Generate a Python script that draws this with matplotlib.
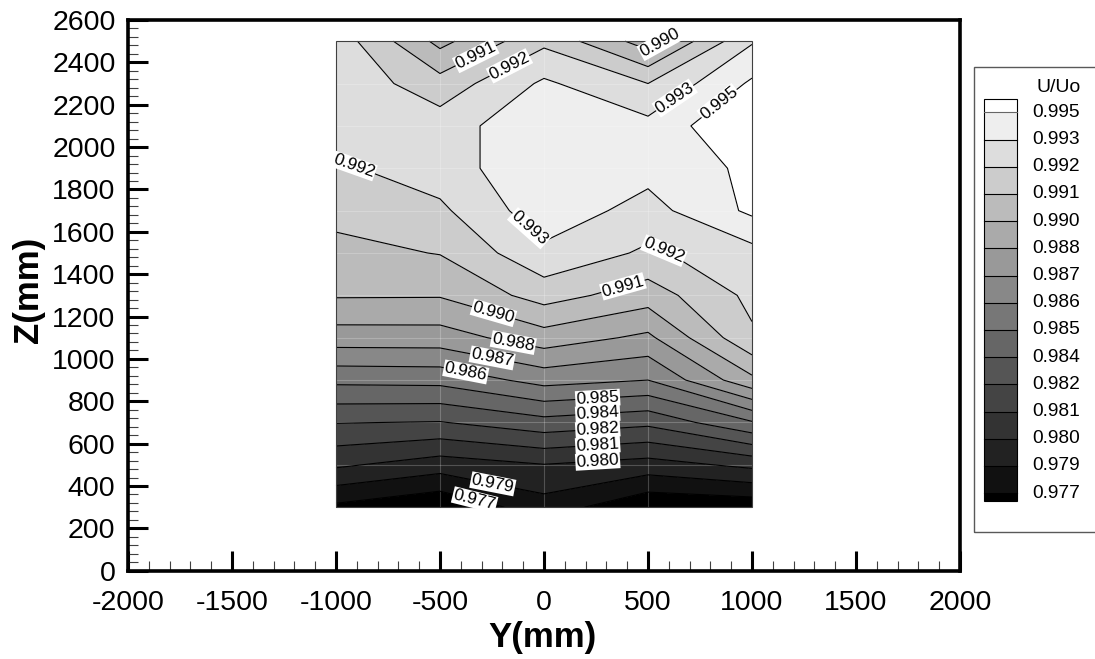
import numpy as np
import matplotlib
matplotlib.use("Agg")
import matplotlib.pyplot as plt
from matplotlib.colors import ListedColormap, BoundaryNorm
from matplotlib.ticker import MultipleLocator
from matplotlib.patches import Rectangle

plt.rcParams['font.family'] = ['Liberation Sans', 'DejaVu Sans']
plt.rcParams['axes.unicode_minus'] = False

# Measurement grid (mm)
y_pos = [-1000, -500, 0, 500, 1000]
z_pos = [300, 500, 700, 900, 1100, 1300, 1500, 1700, 1900, 2100, 2300, 2500]

# U/Uo at each grid node, one row per height z
u_ratio = [
    [0.97705, 0.97620, 0.97801, 0.97624, 0.97644],
    [0.98001, 0.97917, 0.97976, 0.97928, 0.98011],
    [0.98233, 0.98222, 0.98307, 0.98258, 0.98464],
    [0.98506, 0.98514, 0.98646, 0.98600, 0.98942],
    [0.98789, 0.98791, 0.98916, 0.98821, 0.99201],
    [0.98983, 0.98981, 0.99148, 0.99033, 0.99251],
    [0.99059, 0.99101, 0.99316, 0.99199, 0.99301],
    [0.99134, 0.99196, 0.99418, 0.99298, 0.99493],
    [0.99201, 0.99282, 0.99443, 0.99387, 0.99493],
    [0.99294, 0.99282, 0.99443, 0.99381, 0.99592],
    [0.99313, 0.99146, 0.99365, 0.99220, 0.99488],
    [0.99294, 0.98935, 0.99192, 0.98910, 0.99332],
]

# Contour levels
levels = [0.97732, 0.97856, 0.97980, 0.98104, 0.98228, 0.98352, 0.98476,
          0.98600, 0.98724, 0.98848, 0.98972, 0.99096, 0.99220, 0.99344,
          0.99468]

# Where each contour label sits: (level index, y, z)
label_spots = [
    (11, -325, 2425), (12, -166, 2383), (10, 579, 2454), (13, 622, 2241),
    (14, 844, 2203), (12, -914, 1911), (13, -70, 1618), (12, 579, 1518),
    (11, 382, 1334), (10, -243, 1217), (9, -147, 1080), (8, -252, 990),
    (7, -382, 909), (6, 258, 815), (5, 258, 744), (4, 258, 673),
    (3, 258, 598), (2, 258, 522), (1, -248, 400), (0, -334, 333),
]

W, H = 1095, 659
fig = plt.figure(figsize=(W / 100, H / 100), dpi=100)


def fx(px):
    return px / W


def fy(py):
    return 1 - py / H


ax = fig.add_axes([fx(128), fy(570.7), fx(960) - fx(128), fy(20) - fy(570.7)])
ax.set_xlim(-2000, 2000)
ax.set_ylim(0, 2600)

Y, Z = np.meshgrid(y_pos, z_pos)
U = np.array(u_ratio)

n_bands = len(levels) - 1
grays = [str(i / (n_bands + 1)) for i in range(1, n_bands + 1)]
cmap = ListedColormap(grays)
cmap.set_under('0.0')
cmap.set_over('1.0')
norm = BoundaryNorm(levels, n_bands)

ax.contourf(Y, Z, U, levels=levels, cmap=cmap, norm=norm, extend='both')

# faint mesh lines of the measurement grid
for yv in y_pos:
    ax.plot([yv, yv], [z_pos[0], z_pos[-1]], color='white', alpha=0.22, lw=0.8, zorder=2)
for zv in z_pos:
    ax.plot([y_pos[0], y_pos[-1]], [zv, zv], color='white', alpha=0.22, lw=0.8, zorder=2)

cs = ax.contour(Y, Z, U, levels=levels, colors='black', linewidths=0.8, zorder=3)

ax.add_patch(Rectangle((y_pos[0], z_pos[0]), y_pos[-1] - y_pos[0], z_pos[-1] - z_pos[0],
                       fill=False, ec='0.25', lw=0.8, zorder=3))

fmt = lambda v: f"{v:.3f}"


def place_label(level_idx, px, pz):
    """Put a boxed label on the contour of one level, nearest to (px, pz)."""
    path = cs.get_paths()[level_idx]
    to_disp = ax.transData.transform
    target = to_disp((px, pz))
    best = None
    for poly in path.to_polygons(closed_only=False):
        d = to_disp(poly)
        for a, b in zip(d[:-1], d[1:]):
            seg = b - a
            L2 = float(seg @ seg)
            if L2 == 0:
                continue
            t = np.clip((target - a) @ seg / L2, 0, 1)
            p = a + t * seg
            dist = np.hypot(*(p - target))
            if best is None or dist < best[0]:
                best = (dist, p, seg)
    _, p, seg = best
    ang = np.degrees(np.arctan2(seg[1], seg[0]))
    if ang > 90:
        ang -= 180
    elif ang < -90:
        ang += 180
    x, z = ax.transData.inverted().transform(p)
    ax.text(x, z, fmt(levels[level_idx]), rotation=ang, rotation_mode='anchor',
            ha='center', va='center', fontsize=12.4, zorder=5,
            bbox=dict(boxstyle='square,pad=0.05', fc='white', ec='none'))


for idx, ly, lz in label_spots:
    place_label(idx, ly, lz)

ax.xaxis.set_major_locator(MultipleLocator(500))
ax.xaxis.set_minor_locator(MultipleLocator(100))
ax.yaxis.set_major_locator(MultipleLocator(200))
ax.yaxis.set_minor_locator(MultipleLocator(40))
ax.tick_params(which='both', direction='in', top=False, right=False)
ax.tick_params(which='major', length=14.4, width=2.2, labelsize=20.5)
ax.tick_params(axis='x', which='major', pad=14)
ax.tick_params(axis='y', which='major', pad=9)
ax.tick_params(which='minor', length=7.2, width=0.8, color='0.25')
for sp in ax.spines.values():
    sp.set_linewidth(2.6)

fig.text(fx(28), fy(290), 'Z(mm)', rotation=90, fontsize=25, fontweight='bold',
         ha='center', va='center')
fig.text(fx(543), fy(637), 'Y(mm)', fontsize=25, fontweight='bold',
         ha='center', va='center')

# Legend panel
fig.patches.append(Rectangle((fx(974), fy(532)), fx(1120) - fx(974), fy(67) - fy(532),
                             transform=fig.transFigure, fill=False, ec='0.35', lw=1.0))
fig.text(fx(1059), fy(87), 'U/Uo', fontsize=14, ha='center', va='center')

box_l, box_r = 984, 1017
top_px, step = 112.3, 27.2
bottom_px = 501
n_lv = len(levels)
# white band above the highest level
fig.patches.append(Rectangle((fx(box_l), fy(top_px)), fx(box_r) - fx(box_l), fy(99) - fy(top_px),
                             transform=fig.transFigure, fc='1.0', ec='none'))
for i in range(n_lv - 1):
    y0 = top_px + i * step
    shade = grays[n_bands - 1 - i]
    fig.patches.append(Rectangle((fx(box_l), fy(y0 + step)), fx(box_r) - fx(box_l), fy(y0) - fy(y0 + step),
                                 transform=fig.transFigure, fc=shade, ec='none'))
y_last = top_px + (n_lv - 1) * step
fig.patches.append(Rectangle((fx(box_l), fy(bottom_px)), fx(box_r) - fx(box_l), fy(y_last) - fy(bottom_px),
                             transform=fig.transFigure, fc='0.0', ec='none'))
fig.patches.append(Rectangle((fx(box_l), fy(bottom_px)), fx(box_r) - fx(box_l), fy(99) - fy(bottom_px),
                             transform=fig.transFigure, fill=False, ec='black', lw=0.8))
for i in range(n_lv):
    yl = top_px + i * step
    lev = levels[n_lv - 1 - i]
    fig.lines.append(plt.Line2D([fx(box_l), fx(box_r)], [fy(yl), fy(yl)], transform=fig.transFigure,
                                color='black' if i else '0.4', lw=0.8))
    fig.text(fx(1032), fy(yl), fmt(lev), fontsize=13.8, ha='left', va='center')

fig.savefig('out.png', dpi=100)
